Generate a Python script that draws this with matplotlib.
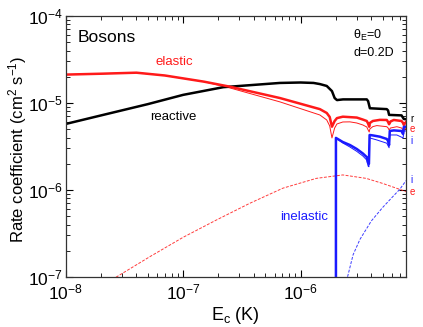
import matplotlib
matplotlib.use("Agg")
import matplotlib.pyplot as plt
import matplotlib.transforms as mtransforms

plt.rcParams['font.family'] = ['Liberation Sans', 'DejaVu Sans']
plt.rcParams['mathtext.fontset'] = 'custom'
plt.rcParams['mathtext.rm'] = 'Liberation Sans'
plt.rcParams['mathtext.it'] = 'Liberation Sans:italic'
plt.rcParams['mathtext.default'] = 'regular'

# collision energy (K) and rate coefficients (cm^2 s^-1)
E_reac = [1e-8, 2e-8, 5e-8, 1e-7, 2.2e-7, 6.67e-7, 1e-6, 1.29e-6, 1.46e-6, 1.67e-6,
          1.85e-6, 1.95e-6, 2.04e-6, 2.3e-6, 3.66e-6, 3.76e-6, 3.89e-6, 5.42e-6,
          5.56e-6, 5.67e-6, 7.24e-6, 7.57e-6, 7.9e-6]
k_reac = [5.74e-6, 7.2e-6, 9.7e-6, 1.24e-5, 1.52e-5, 1.70e-5, 1.72e-5, 1.70e-5, 1.65e-5, 1.57e-5,
          1.37e-5, 1.14e-5, 1.08e-5, 1.10e-5, 1.10e-5, 1.05e-5, 8.7e-6, 8.5e-6,
          8.2e-6, 7.3e-6, 7.2e-6, 6.55e-6, 6.5e-6]

E_el = [1e-8, 2e-8, 4e-8, 7e-8, 1.5e-7, 2.5e-7, 6.67e-7, 1.46e-6, 1.67e-6, 1.77e-6,
        1.85e-6, 1.95e-6, 2.04e-6, 2.29e-6, 3.01e-6, 3.39e-6, 3.66e-6, 3.76e-6,
        3.84e-6, 3.89e-6, 4.12e-6, 4.73e-6, 5.42e-6, 5.56e-6, 5.67e-6, 5.83e-6,
        6.22e-6, 7.24e-6, 7.46e-6, 7.57e-6, 7.9e-6]
k_el = [2.12e-5, 2.17e-5, 2.23e-5, 2.07e-5, 1.76e-5, 1.54e-5, 1.14e-5, 8.5e-6, 7.68e-6, 6.91e-6,
        5.34e-6, 6.21e-6, 6.7e-6, 6.96e-6, 6.8e-6, 6.45e-6, 6.21e-6, 5.8e-6,
        5.34e-6, 5.89e-6, 6.21e-6, 6.4e-6, 6.38e-6, 6.05e-6, 5.7e-6, 6.13e-6,
        6.38e-6, 6.21e-6, 5.89e-6, 5.59e-6, 6.05e-6]

E_el2 = [1e-8, 2e-8, 4e-8, 7e-8, 1.5e-7, 2.5e-7, 6.67e-7, 1.46e-6, 1.67e-6, 1.77e-6,
         1.85e-6, 1.95e-6, 2.04e-6, 2.29e-6, 2.63e-6, 3.01e-6, 3.39e-6, 3.66e-6,
         3.76e-6, 3.84e-6, 3.89e-6, 4.12e-6, 4.46e-6, 5.42e-6, 5.56e-6, 5.67e-6,
         5.83e-6, 6.6e-6, 7.24e-6, 7.57e-6, 7.9e-6]
k_el2 = [2.12e-5, 2.17e-5, 2.23e-5, 2.07e-5, 1.76e-5, 1.49e-5, 1.03e-5, 7.28e-6, 6.38e-6, 5.45e-6,
         3.97e-6, 5.16e-6, 5.74e-6, 6.05e-6, 6.07e-6, 5.89e-6, 5.59e-6, 5.3e-6,
         4.9e-6, 4.64e-6, 5.03e-6, 5.35e-6, 5.5e-6, 5.34e-6, 5.16e-6, 4.9e-6,
         5.16e-6, 5.34e-6, 5.16e-6, 4.77e-6, 5.16e-6]

E_inel = [2.0e-6, 2.0e-6, 2.29e-6, 2.63e-6, 3.01e-6, 3.39e-6, 3.66e-6, 3.76e-6, 3.82e-6,
          3.87e-6, 4.12e-6, 4.73e-6, 5.42e-6, 5.56e-6, 5.67e-6, 5.75e-6, 6.22e-6,
          7.24e-6, 7.46e-6, 7.57e-6, 7.9e-6]
k_inel = [1e-9, 3.97e-6, 3.56e-6, 3.29e-6, 2.96e-6, 2.63e-6, 2.39e-6, 2.04e-6, 2.0e-6,
          4.29e-6, 4.24e-6, 4.1e-6, 3.86e-6, 3.66e-6, 3.29e-6, 4.77e-6, 4.84e-6,
          4.77e-6, 4.4e-6, 5.3e-6, 5.35e-6]

E_inel2 = [2.0e-6, 2.0e-6, 2.29e-6, 2.63e-6, 3.01e-6, 3.39e-6, 3.66e-6, 3.76e-6, 3.82e-6,
           3.87e-6, 4.46e-6, 5.42e-6, 5.67e-6, 5.75e-6, 6.6e-6, 7.46e-6, 7.6e-6, 7.9e-6]
k_inel2 = [1e-9, 3.97e-6, 3.47e-6, 3.12e-6, 2.78e-6, 2.46e-6, 2.21e-6, 1.88e-6, 1.85e-6,
           3.97e-6, 3.76e-6, 3.45e-6, 3.06e-6, 4.29e-6, 4.29e-6, 3.97e-6, 4.77e-6, 4.77e-6]

# dashed curves
E_el_d = [2e-8, 2.7e-8, 5.2e-8, 1e-7, 1.92e-7, 3.69e-7, 7.08e-7, 1.36e-6, 2.29e-6,
          3.62e-6, 5.0e-6, 7.9e-6]
k_el_d = [7.8e-8, 1e-7, 1.71e-7, 2.86e-7, 4.52e-7, 7.03e-7, 1.05e-6, 1.36e-6, 1.49e-6,
          1.36e-6, 1.19e-6, 9.6e-7]

E_inel_d = [2.45e-6, 2.51e-6, 2.8e-6, 3.2e-6, 4.0e-6, 5.0e-6, 6.0e-6, 7.0e-6, 7.9e-6]
k_inel_d = [8e-8, 1e-7, 1.8e-7, 2.7e-7, 4.4e-7, 6.3e-7, 8.2e-7, 1.02e-6, 1.28e-6]

RED = '#ff1a1a'
BLUE = '#1a1aff'

fig = plt.figure(figsize=(4.23, 3.27), dpi=100)
ax = fig.add_axes([0.1553, 0.1529, 0.8045, 0.7982])

ax.plot(E_el_d, k_el_d, color=RED, lw=0.7, ls=(0, (3, 1.5)), alpha=0.85)
ax.plot(E_inel_d, k_inel_d, color=BLUE, lw=0.7, ls=(0, (3, 1.5)), alpha=0.85)
ax.plot(E_el2, k_el2, color=RED, lw=0.7)
ax.plot(E_inel2, k_inel2, color=BLUE, lw=0.7)
ax.plot(E_reac, k_reac, color='black', lw=1.8)
ax.plot(E_el, k_el, color=RED, lw=1.8)
ax.plot(E_inel, k_inel, color=BLUE, lw=1.8)

ax.set_xscale('log')
ax.set_yscale('log')
ax.set_xlim(1e-8, 7.9e-6)
ax.set_ylim(1e-7, 1e-4)

ax.tick_params(which='both', direction='in', top=True, right=True, labelsize=12.5)
ax.tick_params(which='major', length=5, width=0.8)
ax.tick_params(which='minor', length=3, width=0.6)
ax.tick_params(axis='x', pad=4)
ax.tick_params(axis='y', pad=2)
for s in ax.spines.values():
    s.set_linewidth(0.9)
    s.set_color('#333333')

ax.set_xlabel(r'E$_c$ (K)', fontsize=13, labelpad=2)
ax.set_ylabel(r'Rate coefficient (cm$^2$ s$^{-1}$)', fontsize=12)
ax.yaxis.set_label_coords(-0.108, 0.49)

ax.text(0.035, 0.945, 'Bosons', transform=ax.transAxes, fontsize=12.5, va='top')
ax.text(0.845, 0.955, r'$\theta_E$=0', transform=ax.transAxes, fontsize=9, va='top')
ax.text(0.845, 0.88, 'd=0.2D', transform=ax.transAxes, fontsize=9, va='top')
ax.text(8.4e-8, 2.96e-5, 'elastic', color=RED, fontsize=9.5, ha='center', va='center')
ax.text(8.25e-8, 6.9e-6, 'reactive', color='black', fontsize=9.5, ha='center', va='center')
ax.text(1.07e-6, 4.9e-7, 'inelastic', color=BLUE, fontsize=9.5, ha='center', va='center')

# curve tags just outside the right spine
tr = mtransforms.blended_transform_factory(ax.transAxes, ax.transData)
for txt, yv, c in [('r', 6.6e-6, 'black'), ('e', 5.0e-6, RED), ('i', 3.7e-6, BLUE),
                   ('i', 1.32e-6, BLUE), ('e', 9.4e-7, RED)]:
    ax.text(1.012, yv, txt, transform=tr, color=c, fontsize=7, va='center',
            clip_on=False)

fig.savefig('out.png', dpi=100)
